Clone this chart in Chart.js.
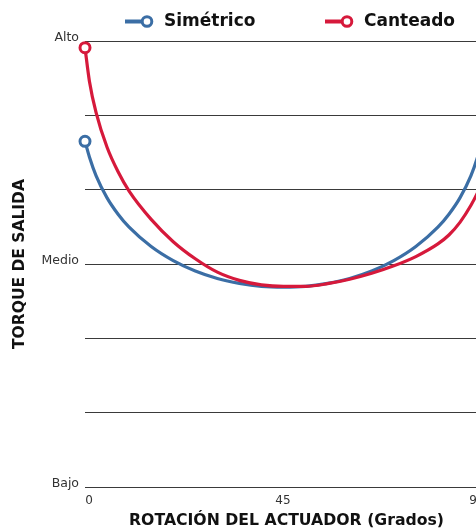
<!DOCTYPE html>
<html><head><meta charset="utf-8">
<script src="https://cdn.jsdelivr.net/npm/chart.js@4"></script>
<style>
html,body{margin:0;padding:0;overflow:hidden;background:#fff;width:476px;height:529px}
#wrap{position:relative;width:500px;height:529px}
</style></head>
<body><div id="wrap"><canvas id="c"></canvas></div>
<script>
// ---- data ----
const angles    = [0, 1, 2.5, 5, 7.5, 10, 15, 20, 25, 30, 35, 40, 45, 50, 55, 60, 65, 70, 75, 80, 82.5, 85, 87.5, 89, 90];
const simetrico = [4.65, 4.44, 4.19, 3.89, 3.67, 3.495, 3.235, 3.045, 2.905, 2.805, 2.74, 2.70, 2.69, 2.70, 2.74, 2.805, 2.905, 3.045, 3.235, 3.495, 3.67, 3.89, 4.19, 4.44, 4.65];
const canteado  = [5.91, 5.46, 5.04, 4.57, 4.24, 3.98, 3.60, 3.30, 3.07, 2.89, 2.78, 2.72, 2.70, 2.70, 2.735, 2.795, 2.875, 2.975, 3.10, 3.27, 3.39, 3.56, 3.79, 3.96, 4.09];
const seriesNames = ['Simétrico', 'Canteado'];
const xTickValues = [0, 45, 90];
const xTickLabels = ['0', '45', '90'];
const yTickLabels = ['Bajo', '', '', 'Medio', '', '', 'Alto'];
const xTitle = 'ROTACIÓN DEL ACTUADOR (Grados)';
const yTitle = 'TORQUE DE SALIDA';

const BLUE = '#3b6ea5', RED = '#d6193b';
const FONT = 'DejaVu Sans';

const toPoints = arr => angles.map((a, i) => ({x: a, y: arr[i]}));
const firstOnly = r => angles.map((_, i) => i === 0 ? r : 0);

const iconLegend = {
  id: 'iconLegend',
  afterDraw(chart) {
    const ctx = chart.ctx;
    const starts = [125, 325];
    const y = 21.5;
    ctx.save();
    chart.data.datasets.forEach((ds, i) => {
      const x0 = starts[i];
      ctx.strokeStyle = ds.borderColor;
      ctx.lineWidth = 4;
      ctx.beginPath(); ctx.moveTo(x0, y); ctx.lineTo(x0 + 17, y); ctx.stroke();
      ctx.beginPath(); ctx.arc(x0 + 22, y, 4.8, 0, Math.PI * 2);
      ctx.fillStyle = '#fff'; ctx.fill(); ctx.lineWidth = 3; ctx.stroke();
      ctx.fillStyle = '#111';
      ctx.font = 'bold 17px "' + FONT + '"';
      ctx.textBaseline = 'middle'; ctx.textAlign = 'left';
      ctx.fillText(ds.label, x0 + 39, y + 0.5);
    });
    ctx.restore();
  }
};

new Chart(document.getElementById('c'), {
  type: 'line',
  data: {
    datasets: [
      {label: seriesNames[0], data: toPoints(simetrico), borderColor: BLUE, backgroundColor: '#fff',
       borderWidth: 3.2, pointRadius: firstOnly(5), pointBorderWidth: 3, pointBackgroundColor: '#fff',
       pointBorderColor: BLUE, cubicInterpolationMode: 'monotone', clip: false, order: 1},
      {label: seriesNames[1], data: toPoints(canteado), borderColor: RED, backgroundColor: '#fff',
       borderWidth: 3.2, pointRadius: firstOnly(5), pointBorderWidth: 3, pointBackgroundColor: '#fff',
       pointBorderColor: RED, cubicInterpolationMode: 'monotone', clip: false, order: 0}
    ]
  },
  options: {
    responsive: true, maintainAspectRatio: false, animation: false,
    layout: {padding: {top: 41, right: 12, bottom: 0, left: 0}},
    plugins: {legend: {display: false}, tooltip: {enabled: false}},
    scales: {
      x: {type: 'linear', display: false, min: 0, max: 91.36},
      x2: {
        type: 'linear', position: 'bottom', min: -0.93, max: 92.55,
        afterBuildTicks(s) { s.ticks = xTickValues.map(v => ({value: v})); },
        ticks: {autoSkip: false, maxRotation: 0, padding: 7, color: '#333',
                font: {family: FONT, size: 12},
                callback: v => xTickLabels[xTickValues.indexOf(v)]},
        grid: {display: false, drawTicks: false}, border: {display: false},
        title: {display: true, text: xTitle, color: '#111', padding: 0,
                font: {family: FONT, size: 15.7, weight: 'bold', lineHeight: 1}},
        afterFit(s) { s.height = 42; }
      },
      y: {
        min: 0, max: 6,
        ticks: {stepSize: 1, autoSkip: false, padding: 6, labelOffset: -3, color: '#333',
                font: {family: FONT, size: 12.5},
                callback: v => yTickLabels[v] ?? ''},
        grid: {color: '#3a3a3a', lineWidth: 1, drawTicks: false}, border: {display: false},
        title: {display: true, text: yTitle, color: '#111', padding: {top: 11, bottom: 0},
                font: {family: FONT, size: 15.5, weight: 'bold'}},
        afterFit(s) { s.width = 85; }
      }
    }
  },
  plugins: [iconLegend]
});
</script>
</body></html>
